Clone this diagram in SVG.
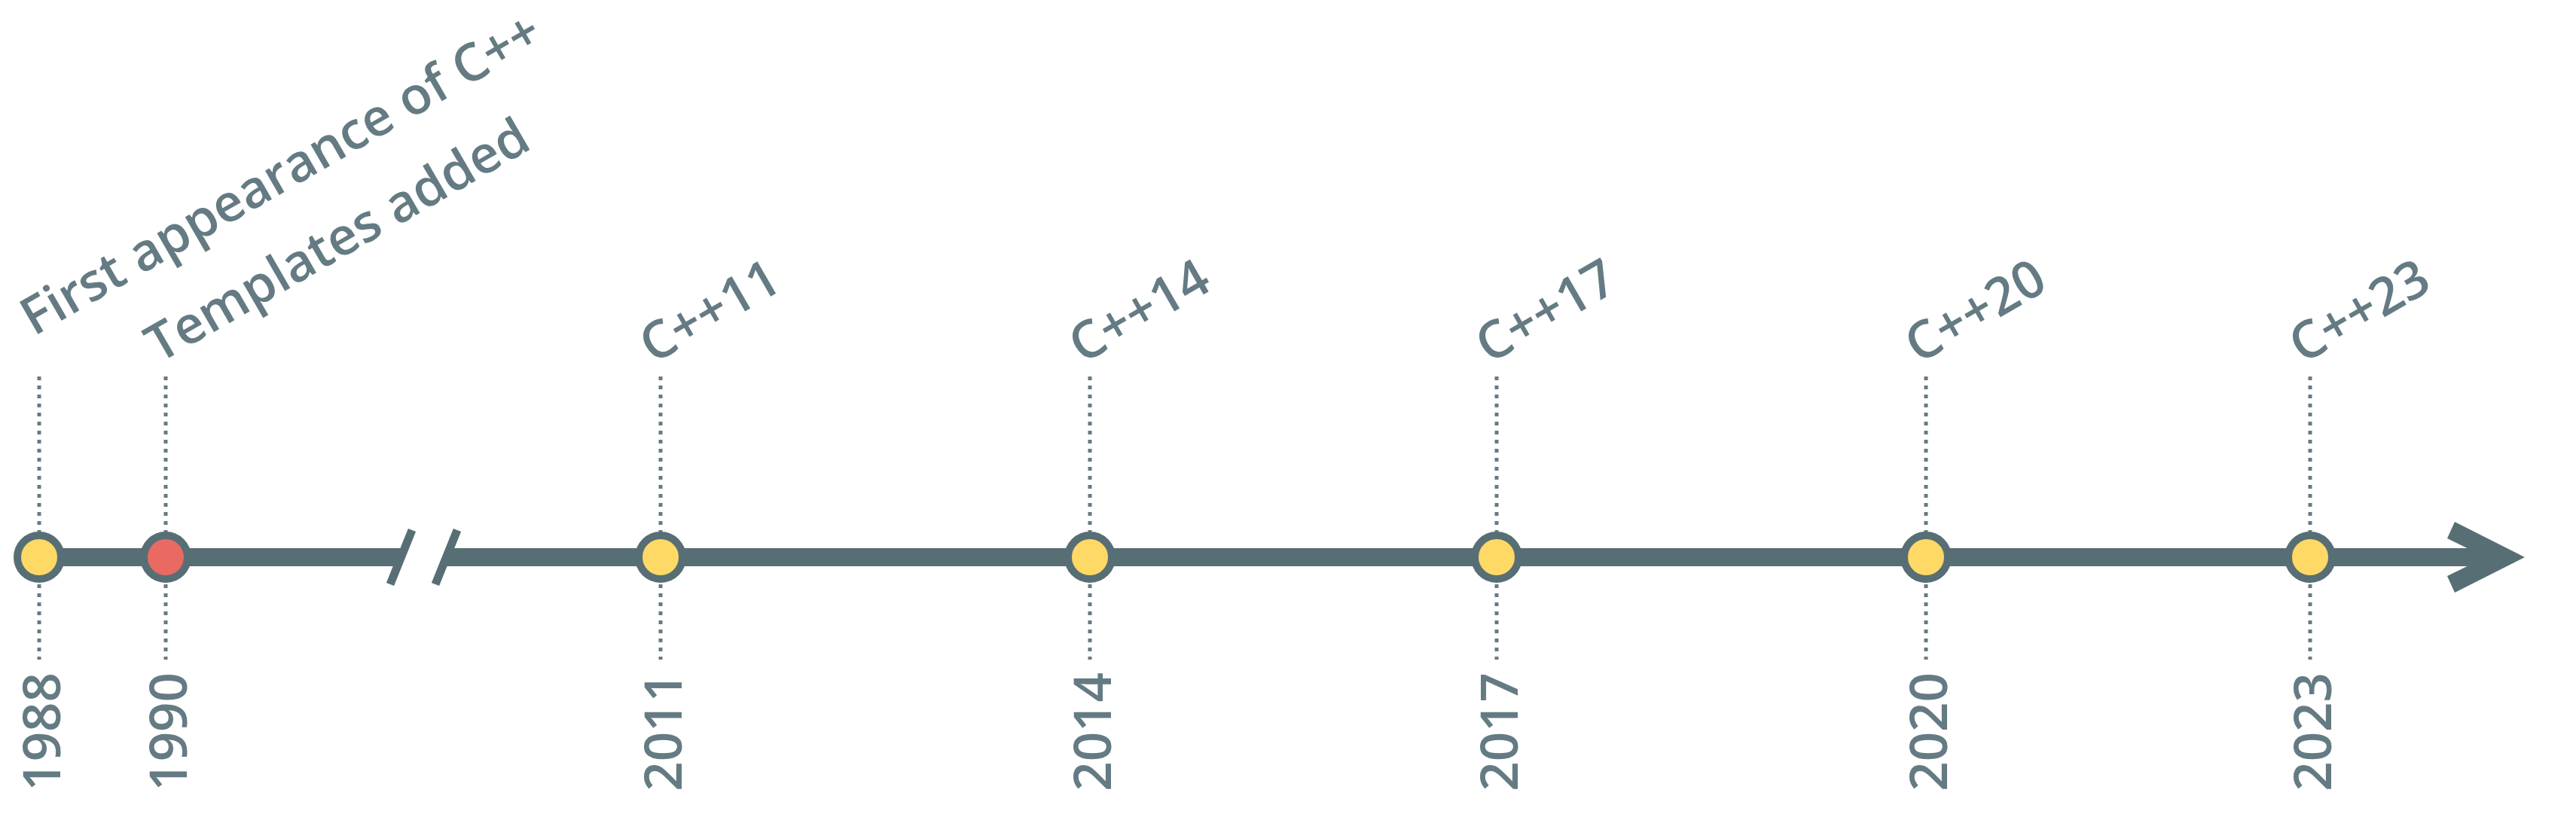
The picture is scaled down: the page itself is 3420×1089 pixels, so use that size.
<svg xmlns="http://www.w3.org/2000/svg" width="3420" height="1089" viewBox="0 0 3420 1089">
<style>
.lbl{font-family:"Open Sans","Noto Sans","DejaVu Sans",sans-serif;font-size:69px;font-weight:600;fill:#657b83}
.yr{font-family:"Open Sans","Noto Sans","DejaVu Sans",sans-serif;font-size:69px;font-weight:600;fill:#657b83;text-anchor:end}
.dot{stroke:#657b83;stroke-width:5;stroke-dasharray:5 7;fill:none}
.ev{stroke:#586e75;stroke-width:10}
.y{fill:#fed966}
.r{fill:#e96a63}
</style>
<rect width="3420" height="1089" fill="#ffffff"/>
<g id="connectors">
<g id="dotted">
<line class="dot" x1="52" y1="500" x2="52" y2="876"/>
<line class="dot" x1="220" y1="500" x2="220" y2="876"/>
<line class="dot" x1="877" y1="500" x2="877" y2="876"/>
<line class="dot" x1="1447" y1="500" x2="1447" y2="876"/>
<line class="dot" x1="1987" y1="500" x2="1987" y2="876"/>
<line class="dot" x1="2557" y1="500" x2="2557" y2="876"/>
<line class="dot" x1="3067" y1="500" x2="3067" y2="876"/>
</g>
<g id="axis" fill="#586e75">
<polygon points="52,728 537.3,728 527.7,752 52,752"/>
<polygon points="597.3,728 3310,728 3310,752 587.7,752"/>
<polygon points="3259,693 3352,740 3259,787 3249,765 3300,740 3249,715"/>
<line x1="518" y1="776" x2="547" y2="704" stroke="#586e75" stroke-width="11"/>
<line x1="578" y1="776" x2="607" y2="704" stroke="#586e75" stroke-width="11"/>
</g>
</g>
<g id="n1988"><circle class="ev y" cx="52" cy="740" r="29"/><text class="yr" transform="translate(80,893) rotate(-90)">1988</text><text class="lbl" transform="translate(45,447) rotate(-30)">First appearance of C++</text></g>
<g id="n1990"><circle class="ev r" cx="220" cy="740" r="29"/><text class="yr" transform="translate(248,893) rotate(-90)">1990</text><text class="lbl" transform="translate(211,483) rotate(-30)">Templates added</text></g>
<g id="n2011"><circle class="ev y" cx="877" cy="740" r="29"/><text class="yr" transform="translate(905,893) rotate(-90)">2011</text><text class="lbl" transform="translate(867,484) rotate(-30)">C++11</text></g>
<g id="n2014"><circle class="ev y" cx="1447" cy="740" r="29"/><text class="yr" transform="translate(1475,893) rotate(-90)">2014</text><text class="lbl" transform="translate(1437,484) rotate(-30)">C++14</text></g>
<g id="n2017"><circle class="ev y" cx="1987" cy="740" r="29"/><text class="yr" transform="translate(2015,893) rotate(-90)">2017</text><text class="lbl" transform="translate(1977,484) rotate(-30)">C++17</text></g>
<g id="n2020"><circle class="ev y" cx="2557" cy="740" r="29"/><text class="yr" transform="translate(2585,893) rotate(-90)">2020</text><text class="lbl" transform="translate(2547,484) rotate(-30)">C++20</text></g>
<g id="n2023"><circle class="ev y" cx="3067" cy="740" r="29"/><text class="yr" transform="translate(3095,893) rotate(-90)">2023</text><text class="lbl" transform="translate(3057,484) rotate(-30)">C++23</text></g>
</svg>
